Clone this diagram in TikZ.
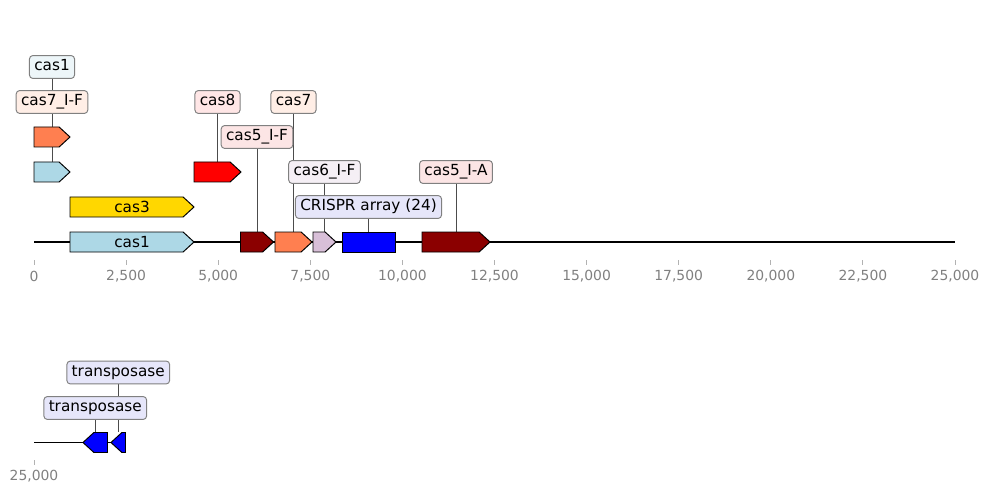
\documentclass[tikz,border=0pt]{standalone}
\usepackage{fontspec}
\setmainfont{DejaVu Sans}
\usetikzlibrary{shapes.symbols, backgrounds}
\definecolor{genelightblue}{HTML}{ADD8E6}
\definecolor{genecoral}{HTML}{FF7F50}
\definecolor{genered}{HTML}{FF0000}
\definecolor{genegold}{HTML}{FFD700}
\definecolor{genedarkred}{HTML}{8B0000}
\definecolor{genethistle}{HTML}{D8BFD8}
\definecolor{geneblue}{HTML}{0000FF}
\definecolor{taglightblue}{HTML}{EDF6F9}
\definecolor{tagcoral}{HTML}{FFEEE6}
\definecolor{tagred}{HTML}{FFE6E6}
\definecolor{tagdarkred}{HTML}{FCE5E5}
\definecolor{tagthistle}{HTML}{F5EFF5}
\definecolor{tagblue}{HTML}{E6E6FA}

\begin{document}
\begin{tikzpicture}[
    x=0.72pt, y=-0.72pt,
    gene/.style={signal, signal to=east, signal pointer angle=85, draw=black, line width=0.7pt, minimum height=14.4pt, inner sep=0pt, font=\fontsize{11}{13}\selectfont},
    revgene/.style={gene, signal to=west},
    crispr/.style={rectangle, draw=black, line width=0.7pt, minimum height=14.4pt, inner sep=0pt},
    tag/.style={rectangle, rounded corners=2.5pt, draw=gray, line width=0.7pt, inner xsep=3.5pt, inner ysep=3pt, text height=8pt, text depth=2.5pt, font=\fontsize{11}{13}\selectfont},
    link/.style={black!70, line width=0.5pt},
    seqline/.style={black, line width=1.4pt},
    tick/.style={gray!60, line width=0.6pt},
    ticklabel/.style={gray, font=\fontsize{10}{12}\selectfont}
]
\useasboundingbox (0,0) rectangle (989,494);

% ============ TOP TRACK ============
\coordinate (top-start) at (34,242);
\coordinate (top-end) at (955,242);

% Genes on the sequence line (node centre = body centre, tip adds 10.9 to the right)
\node[gene, fill=genelightblue, minimum width=89.28pt] (gene-cas1) at (126.55,242) {\hspace*{7.85pt}cas1};
\node[gene, fill=genedarkred, minimum width=23.76pt] (gene-cas5if) at (251.55,242) {};
\node[gene, fill=genecoral, minimum width=26.64pt] (gene-cas7) at (288.05,242) {};
\node[gene, fill=genethistle, minimum width=16.56pt] (gene-cas6if) at (319.05,242) {};
\node[crispr, fill=geneblue, minimum width=38.16pt] (gene-crispr) at (368.5,242) {};
\node[gene, fill=genedarkred, minimum width=48.96pt] (gene-cas5ia) at (450.55,242) {};

% Stacked genes
\node[gene, fill=genegold, minimum width=89.28pt] (gene-cas3) at (126.55,207) {\hspace*{7.85pt}cas3};
\node[gene, fill=genelightblue, minimum width=25.92pt] (gene-cas1-small) at (46.55,172) {};
\node[gene, fill=genered, minimum width=33.84pt] (gene-cas8) at (212.05,172) {};
\node[gene, fill=genecoral, minimum width=25.92pt] (gene-cas7if) at (46.55,137) {};

% Labels
\node[tag, fill=taglightblue] (lab-cas1) at (52,67) {cas1};
\node[tag, fill=tagcoral] (lab-cas7if) at (52,102) {cas7\_I-F};
\node[tag, fill=tagred] (lab-cas8) at (217.5,102) {cas8};
\node[tag, fill=tagcoral] (lab-cas7) at (293.5,102) {cas7};
\node[tag, fill=tagdarkred] (lab-cas5if) at (257,137) {cas5\_I-F};
\node[tag, fill=tagthistle] (lab-cas6if) at (324.5,172) {cas6\_I-F};
\node[tag, fill=tagblue] (lab-crispr) at (368.5,207) {CRISPR array (24)};
\node[tag, fill=tagdarkred] (lab-cas5ia) at (456,172) {cas5\_I-A};

% Axis
\foreach \k/\txt in {0/0, 1/{2,500}, 2/{5,000}, 3/{7,500}, 4/{10,000}, 5/{12,500}, 6/{15,000}, 7/{17,500}, 8/{20,000}, 9/{22,500}, 10/{25,000}} {
    \draw[tick] (34+92.1*\k,260) -- (34+92.1*\k,265);
    \node[ticklabel] at (34+92.1*\k,276) {\txt};
}

% ============ BOTTOM TRACK ============
\coordinate (bot-start) at (34,442.5);
\coordinate (bot-end) at (125,442.5);

\node[revgene, fill=geneblue, minimum width=17.64pt] (gene-tnp2) at (100.7,442.5) {};
\node[revgene, fill=geneblue, minimum width=10.44pt] (gene-tnp1) at (123.7,442.5) {};

\node[tag, fill=tagblue] (lab-tnp1) at (118.25,372.5) {transposase};
\node[tag, fill=tagblue] (lab-tnp2) at (95.25,408) {transposase};

\draw[tick] (34,460) -- (34,465);
\node[ticklabel] at (34,476) {25,000};

% Lines behind everything
\begin{pgfonlayer}{background}
\draw[seqline] (top-start) -- (top-end);
\draw[seqline] (bot-start) -- (bot-end);
\draw[link] (lab-cas1.south) -- (lab-cas1.south |- gene-cas1-small.north);
\draw[link] (lab-cas7if.south) -- (lab-cas7if.south |- gene-cas7if.north);
\draw[link] (lab-cas8.south) -- (lab-cas8.south |- gene-cas8.north);
\draw[link] (lab-cas7.south) -- (lab-cas7.south |- gene-cas7.north);
\draw[link] (lab-cas5if.south) -- (lab-cas5if.south |- gene-cas5if.north);
\draw[link] (lab-cas6if.south) -- (lab-cas6if.south |- gene-cas6if.north);
\draw[link] (lab-crispr.south) -- (lab-crispr.south |- gene-crispr.north);
\draw[link] (lab-cas5ia.south) -- (lab-cas5ia.south |- gene-cas5ia.north);
\draw[link] (lab-tnp1.south) -- (lab-tnp1.south |- gene-tnp1.north);
\draw[link] (lab-tnp2.south) -- (lab-tnp2.south |- gene-tnp2.north);
\end{pgfonlayer}

\end{tikzpicture}
\end{document}
